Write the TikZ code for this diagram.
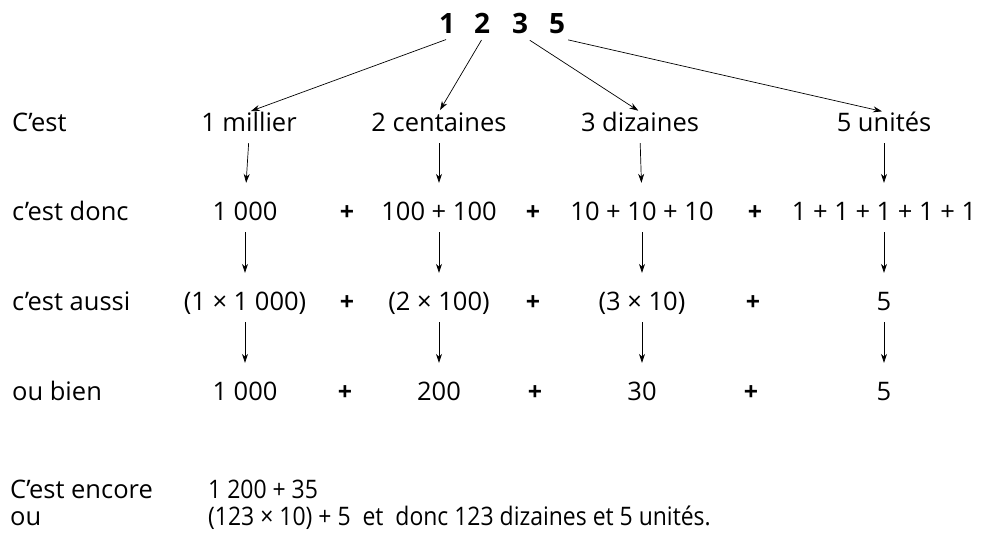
\documentclass[tikz,border=0pt]{standalone}
\usepackage{fontspec}
\setmainfont{Open Sans}
\usetikzlibrary{arrows.meta}

\begin{document}
\begin{tikzpicture}[
  x=1pt, y=-1pt,
  >={Stealth[length=9pt,width=6pt]},
  font=\fontsize{25.5}{30}\selectfont,
  every node/.style={inner sep=0pt, text height=19pt, text depth=6pt},
  txt/.style   ={anchor=base},
  rowlbl/.style={anchor=base west},
  narrow/.style={rowlbl, xscale=0.9, transform shape},
  digit/.style ={anchor=base, font=\fontsize{28}{32}\selectfont\bfseries},
  plus/.style  ={anchor=base, font=\fontsize{25}{30}\selectfont\bfseries},
  arc/.style   ={->, line width=0.7pt},
  down/.style  ={arc, shorten <=6pt, shorten >=18pt}
]

\fill[white] (0,0) rectangle (988,539);
\useasboundingbox (0,0) rectangle (988,539);

% ---- Number at the top -----------------------------------------------------
\node[digit] (d1) at (447,33) {1};
\node[digit] (d2) at (482,33) {2};
\node[digit] (d3) at (520,33) {3};
\node[digit] (d5) at (557,33) {5};

% ---- Row 1: place values ---------------------------------------------------
\node[rowlbl] (l1) at (12,131) {C’est};
\node[txt] (m1) at (249,131) {1 millier};
\node[txt] (m2) at (439,131) {2 centaines};
\node[txt] (m3) at (640,131) {3 dizaines};
\node[txt] (m4) at (884,131) {5 unités};

% ---- Row 2: sums -----------------------------------------------------------
\node[rowlbl] (l2) at (12,220) {c’est donc};
\node[txt] (s1) at (245,220) {1 000};
\node[plus] (p21) at (347,220) {+};
\node[txt] (s2) at (439,220) {100 + 100};
\node[plus] (p22) at (533,220) {+};
\node[txt] (s3) at (642,220) {10 + 10 + 10};
\node[plus] (p23) at (755,220) {+};
\node[txt] (s4) at (884,220) {1 + 1 + 1 + 1 + 1};

% ---- Row 3: products -------------------------------------------------------
\node[rowlbl] (l3) at (12,310) {c’est aussi};
\node[txt] (q1) at (245,310) {(1 × 1 000)};
\node[plus] (p31) at (347,310) {+};
\node[txt] (q2) at (439,310) {(2 × 100)};
\node[plus] (p32) at (533,310) {+};
\node[txt] (q3) at (642,310) {(3 × 10)};
\node[plus] (p33) at (753,310) {+};
\node[txt] (q4) at (884,310) {5};

% ---- Row 4: values ---------------------------------------------------------
\node[rowlbl] (l4) at (12,400) {ou bien};
\node[txt] (v1) at (245,400) {1 000};
\node[plus] (p41) at (345,400) {+};
\node[txt] (v2) at (439,400) {200};
\node[plus] (p42) at (535,400) {+};
\node[txt] (v3) at (642,400) {30};
\node[plus] (p43) at (751,400) {+};
\node[txt] (v4) at (884,400) {5};

% ---- Bottom lines ----------------------------------------------------------
\node[rowlbl] (l5) at (10,498) {C’est encore};
\node[narrow] (e1) at (208,498) {1 200 + 35};
\node[rowlbl] (l6) at (10,525) {ou};
\node[narrow] (e2) at (208,525) {(123 × 10) + 5\ \ et\ \ donc 123 dizaines et 5 unités.};

% ---- Arrows from the digits ------------------------------------------------
\draw[arc, shorten <=1pt, shorten >=2pt] (d1.south) -- (m1.north);
\draw[arc, shorten <=1pt, shorten >=2pt] (d2.south) -- (m2.north);
\draw[arc, shorten <=2pt, shorten >=2pt] (d3.south east) -- (m3.north);
\draw[arc, shorten <=3pt, shorten >=2pt] (d5.south east) -- (m4.north);

% ---- Vertical arrows -------------------------------------------------------
\foreach \a/\b in {m1/s1,m2/s2,m3/s3,m4/s4,s1/q1,s2/q2,s3/q3,s4/q4,q1/v1,q2/v2,q3/v3,q4/v4}
  \draw[down] (\a.south) -- (\b.north);

\end{tikzpicture}
\end{document}
